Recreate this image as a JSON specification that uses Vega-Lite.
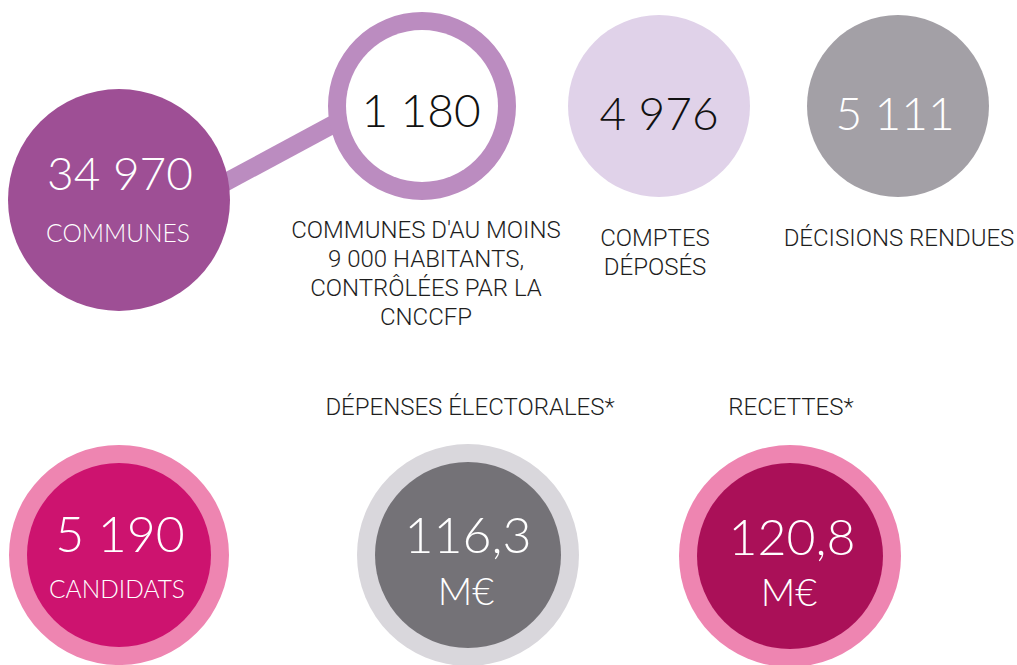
{
  "$schema": "https://vega.github.io/schema/vega-lite/v6.json",
  "width": 1017,
  "height": 665,
  "autosize": {"type": "none"},
  "padding": 0,
  "background": "#ffffff",
  "config": {"view": {"stroke": null}},
  "datasets": {
    "link": [{"x": 200, "y": 196, "x2": 345, "y2": 118}],
    "discs": [
      {"disc": "communes", "tier": "outer", "x": 119, "y": 200, "r": 111},
      {"disc": "villes ring", "tier": "outer", "x": 422, "y": 106, "r": 94},
      {"disc": "villes centre", "tier": "inner", "x": 422, "y": 106, "r": 76},
      {"disc": "comptes", "tier": "outer", "x": 659, "y": 106, "r": 91},
      {"disc": "decisions", "tier": "outer", "x": 898, "y": 106, "r": 91},
      {"disc": "candidats ring", "tier": "outer", "x": 119, "y": 555, "r": 110},
      {"disc": "candidats", "tier": "inner", "x": 119, "y": 555, "r": 92},
      {"disc": "depenses ring", "tier": "outer", "x": 468, "y": 555, "r": 111},
      {"disc": "depenses", "tier": "inner", "x": 468, "y": 555, "r": 93},
      {"disc": "recettes ring", "tier": "outer", "x": 790, "y": 556, "r": 111},
      {"disc": "recettes", "tier": "inner", "x": 790, "y": 556, "r": 93}
    ],
    "inside": [
      {"t": "34 970", "x": 120, "y": 190, "tone": "light", "level": "num"},
      {"t": "COMMUNES", "x": 118, "y": 242, "tone": "light", "level": "label"},
      {"t": "1 180", "x": 421, "y": 127, "tone": "dark", "level": "num"},
      {"t": "4 976", "x": 659, "y": 130, "tone": "dark", "level": "num"},
      {"t": "5 111", "x": 895, "y": 130, "tone": "light", "level": "num"},
      {"t": "5 190", "x": 120, "y": 552, "tone": "light", "level": "bignum"},
      {"t": "CANDIDATS", "x": 117, "y": 598, "tone": "light", "level": "label"},
      {"t": "116,3", "x": 468, "y": 553, "tone": "light", "level": "bignum"},
      {"t": "M€", "x": 466, "y": 605, "tone": "light", "level": "unit"},
      {"t": "120,8", "x": 792, "y": 555, "tone": "light", "level": "bignum"},
      {"t": "M€", "x": 789, "y": 606, "tone": "light", "level": "unit"}
    ],
    "captions": [
      {"t": ["COMMUNES D'AU MOINS", "9 000 HABITANTS,", "CONTRÔLÉES PAR LA", "CNCCFP"], "x": 426, "y": 238},
      {"t": ["COMPTES", "DÉPOSÉS"], "x": 655, "y": 246},
      {"t": ["DÉCISIONS RENDUES"], "x": 899, "y": 246},
      {"t": ["DÉPENSES ÉLECTORALES*"], "x": 470, "y": 415},
      {"t": ["RECETTES*"], "x": 791, "y": 415}
    ]
  },
  "encoding": {
    "x": {"field": "x", "type": "quantitative", "scale": {"domain": [0, 1017], "nice": false, "zero": false}, "axis": null},
    "y": {"field": "y", "type": "quantitative", "scale": {"domain": [0, 665], "nice": false, "zero": false, "reverse": true}, "axis": null}
  },
  "layer": [
    {
      "data": {"name": "link"},
      "mark": {"type": "rule", "strokeWidth": 18, "strokeCap": "butt", "color": "#BB8CC0"},
      "encoding": {
        "x2": {"field": "x2"},
        "y2": {"field": "y2"}
      }
    },
    {
      "data": {"name": "discs"},
      "transform": [{"filter": "datum.tier === 'outer'"}],
      "mark": {"type": "point", "shape": "circle", "filled": true, "opacity": 1, "strokeWidth": 0},
      "encoding": {
        "size": {"field": "r", "type": "quantitative", "scale": {"type": "pow", "exponent": 2, "domain": [0, 100], "range": [0, 40000]}, "legend": null},
        "color": {"field": "disc", "type": "nominal", "legend": null,
          "scale": {
            "domain": ["communes", "villes ring", "villes centre", "comptes", "decisions", "candidats ring", "candidats", "depenses ring", "depenses", "recettes ring", "recettes"],
            "range": ["#9E4F95", "#BB8CC0", "#FFFFFF", "#E0D2E9", "#A3A0A6", "#EE85B1", "#CD136F", "#D9D7DC", "#747277", "#EE85B1", "#AA1058"]
          }
        }
      }
    },
    {
      "data": {"name": "discs"},
      "transform": [{"filter": "datum.tier === 'inner'"}],
      "mark": {"type": "point", "shape": "circle", "filled": true, "opacity": 1, "strokeWidth": 0},
      "encoding": {
        "size": {"field": "r", "type": "quantitative", "scale": {"type": "pow", "exponent": 2, "domain": [0, 100], "range": [0, 40000]}, "legend": null},
        "color": {"field": "disc", "type": "nominal", "legend": null}
      }
    },
    {
      "data": {"name": "inside"},
      "mark": {"type": "text", "font": "Lato", "fontWeight": 300, "align": "center", "baseline": "alphabetic"},
      "encoding": {
        "text": {"field": "t"},
        "size": {"field": "level", "type": "nominal", "legend": null, "scale": {"type": "ordinal", "domain": ["num", "bignum", "unit", "label"], "range": [46, 50, 38, 24.5]}},
        "fill": {"field": "tone", "type": "nominal", "legend": null, "scale": {"domain": ["dark", "light"], "range": ["#111111", "#ffffff"]}}
      }
    },
    {
      "data": {"name": "captions"},
      "mark": {"type": "text", "font": "Roboto", "fontWeight": 300, "fontSize": 24, "lineHeight": 29, "align": "center", "baseline": "alphabetic", "color": "#1e1e1e"},
      "encoding": {
        "text": {"field": "t"}
      }
    }
  ]
}
